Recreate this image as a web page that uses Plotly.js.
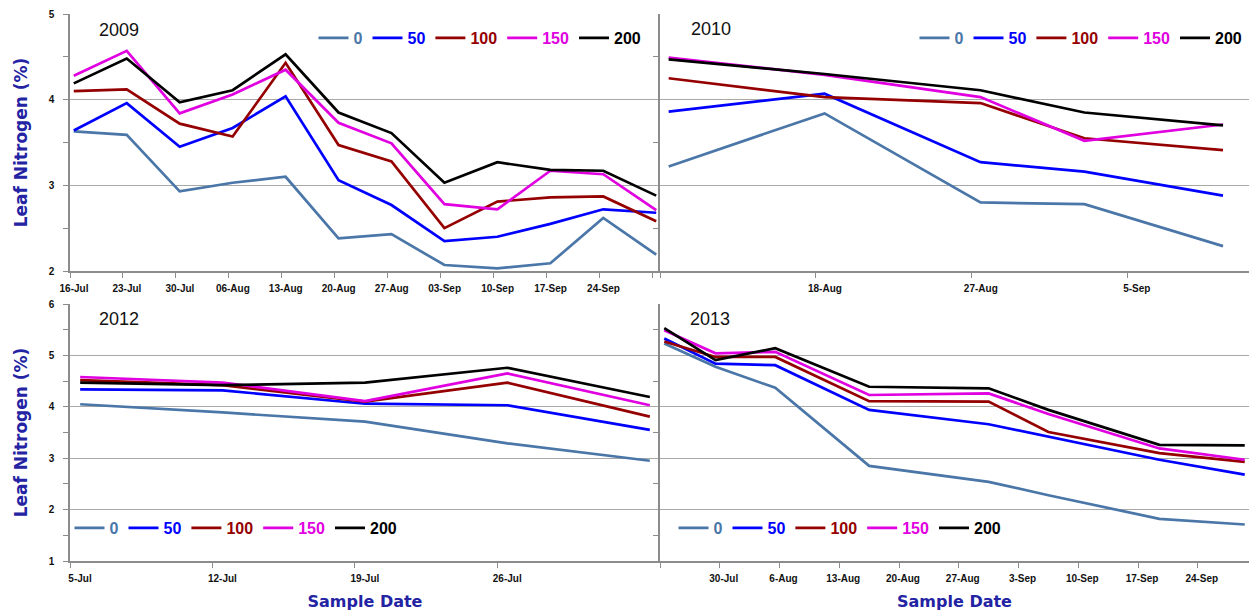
<!DOCTYPE html>
<html>
<head>
<meta charset="utf-8">
<script src="https://cdn.plot.ly/plotly-3.0.1.min.js"></script>
<style>html,body{margin:0;padding:0;background:#fff;}#chart{width:1249px;height:613px;}</style>
</head>
<body>
<div id="chart"></div>
<script>
// ---------- data ----------
const rates = ['0', '50', '100', '150', '200'];
const years = ['2009', '2010', '2012', '2013'];

const dates2009 = ['2009-07-16','2009-07-23','2009-07-30','2009-08-06','2009-08-13','2009-08-20','2009-08-27','2009-09-03','2009-09-10','2009-09-17','2009-09-24','2009-10-01'];
const n0_2009   = [3.63,3.59,2.93,3.03,3.10,2.38,2.43,2.07,2.03,2.09,2.62,2.19];
const n50_2009  = [3.64,3.96,3.45,3.67,4.04,3.06,2.77,2.35,2.40,2.55,2.72,2.68];
const n100_2009 = [4.10,4.12,3.72,3.57,4.43,3.47,3.28,2.50,2.81,2.86,2.87,2.58];
const n150_2009 = [4.28,4.57,3.84,4.06,4.35,3.73,3.49,2.78,2.72,3.17,3.13,2.71];
const n200_2009 = [4.19,4.48,3.97,4.11,4.53,3.85,3.61,3.03,3.27,3.18,3.17,2.88];

const dates2010 = ['2010-08-09','2010-08-18','2010-08-27','2010-09-02','2010-09-10'];
const n0_2010   = [3.22,3.84,2.80,2.78,2.29];
const n50_2010  = [3.86,4.07,3.27,3.16,2.88];
const n100_2010 = [4.25,4.03,3.96,3.55,3.41];
const n150_2010 = [4.49,4.29,4.03,3.52,3.71];
const n200_2010 = [4.47,4.30,4.11,3.85,3.70];

const dates2012 = ['2012-07-05','2012-07-12','2012-07-19','2012-07-26','2012-08-02'];
const n0_2012   = [4.05,3.89,3.71,3.29,2.95];
const n50_2012  = [4.34,4.32,4.06,4.03,3.55];
const n100_2012 = [4.52,4.42,4.10,4.47,3.81];
const n150_2012 = [4.58,4.47,4.11,4.65,4.03];
const n200_2012 = [4.47,4.42,4.47,4.76,4.19];

const dates2013 = ['2013-07-23','2013-07-29','2013-08-05','2013-08-16','2013-08-30','2013-09-06','2013-09-19','2013-09-29'];
const n0_2013   = [5.23,4.78,4.37,2.85,2.54,2.28,1.82,1.71];
const n50_2013  = [5.33,4.84,4.81,3.94,3.66,3.42,2.97,2.68];
const n100_2013 = [5.27,4.97,4.97,4.11,4.10,3.51,3.10,2.93];
const n150_2013 = [5.49,5.04,5.07,4.23,4.26,3.86,3.19,2.97];
const n200_2013 = [5.53,4.91,5.14,4.39,4.36,3.94,3.26,3.25];

// tick positions and labels
const ticks2009  = ['2009-07-16','2009-07-23','2009-07-30','2009-08-06','2009-08-13','2009-08-20','2009-08-27','2009-09-03','2009-09-10','2009-09-17','2009-09-24','2009-10-01'];
const labels2009 = ['16-Jul','23-Jul','30-Jul','06-Aug','13-Aug','20-Aug','27-Aug','03-Sep','10-Sep','17-Sep','24-Sep',''];
const ticks2010  = ['2010-08-09','2010-08-18','2010-08-27','2010-09-05'];
const labels2010 = ['','18-Aug','27-Aug','5-Sep'];
const ticks2012  = ['2012-07-05','2012-07-12','2012-07-19','2012-07-26'];
const labels2012 = ['5-Jul','12-Jul','19-Jul','26-Jul'];
const ticks2013  = ['2013-07-23','2013-07-30','2013-08-06','2013-08-13','2013-08-20','2013-08-27','2013-09-03','2013-09-10','2013-09-17','2013-09-24'];
const labels2013 = ['','30-Jul','6-Aug','13-Aug','20-Aug','27-Aug','3-Sep','10-Sep','17-Sep','24-Sep'];

const yTitle = 'Leaf Nitrogen (%)';
const xTitle = 'Sample Date';

// ---------- styling ----------
const colors = ['#4a76a8', '#0000ff', '#950000', '#e000e0', '#000000'];
const W = 1249, H = 613;
const px = v => v / W;
const py = v => (H - v) / H;

const panels = [
  {dates: dates2009, series: [n0_2009, n50_2009, n100_2009, n150_2009, n200_2009], xa: 'x',  ya: 'y',  leg: 'legend'},
  {dates: dates2010, series: [n0_2010, n50_2010, n100_2010, n150_2010, n200_2010], xa: 'x2', ya: 'y2', leg: 'legend2'},
  {dates: dates2012, series: [n0_2012, n50_2012, n100_2012, n150_2012, n200_2012], xa: 'x3', ya: 'y3', leg: 'legend3'},
  {dates: dates2013, series: [n0_2013, n50_2013, n100_2013, n150_2013, n200_2013], xa: 'x4', ya: 'y4', leg: 'legend4'}
];

const traces = [];
panels.forEach(p => {
  p.series.forEach((vals, i) => {
    traces.push({
      type: 'scatter', mode: 'lines',
      x: p.dates.map(d => d + ' 12:00'),
      y: vals,
      xaxis: p.xa, yaxis: p.ya,
      legend: p.leg,
      name: '<span style="color:' + colors[i] + '">' + rates[i] + '</span>',
      line: {color: colors[i], width: 2.7},
      hoverinfo: 'x+y+name'
    });
  });
});

const axisLine = '#8c8c8c';
const tickFont = {family: 'Liberation Sans, Arial, sans-serif', size: 10, weight: 'bold', color: '#111'};
const yTitleFont = {family: 'DejaVu Sans, sans-serif', size: 17, weight: 'bold', color: '#2323a3'};
const xTitleFont = {family: 'DejaVu Sans, sans-serif', size: 16, weight: 'bold', color: '#2323a3'};

const xLeft = [px(70), px(660)];
const xRight = [px(660), 1];
const yTop = [py(271), py(14)];
const yBot = [py(561), py(304)];

function xAxis(domain, anchor, range, tv, tt, shift, title) {
  const a = {
    domain: domain, anchor: anchor, type: 'date', range: range,
    tickmode: 'array', tickvals: tv, ticktext: tt,
    ticks: 'outside', ticklen: 5, tickwidth: 1.2, tickcolor: axisLine,
    showline: true, linecolor: axisLine, linewidth: 1.5,
    showgrid: false, zeroline: false,
    tickfont: tickFont, ticklabelshift: shift, ticklabelstandoff: 2,
    fixedrange: true
  };
  if (title) a.title = {text: title, font: xTitleFont, standoff: 13};
  return a;
}
function yAxis(domain, anchor, range, labels, title) {
  return {
    domain: domain, anchor: anchor, range: range,
    dtick: 1, tick0: 0,
    ticks: labels ? 'outside' : '', ticklen: 5, tickwidth: 1.2, tickcolor: axisLine,
    showticklabels: labels, tickfont: tickFont, ticklabelstandoff: 7,
    minor: {dtick: 0.5, tick0: 0, ticks: 'outside', ticklen: 5, tickwidth: 1.2, tickcolor: axisLine, showgrid: false},
    showline: true, linecolor: axisLine, linewidth: 1.5,
    showgrid: true, gridcolor: '#a8a8a8', gridwidth: 1.2,
    zeroline: false, fixedrange: true,
    title: title ? {text: title, font: yTitleFont, standoff: 17} : undefined
  };
}
function legendAt(cx, cy) {
  return {
    orientation: 'h', x: px(cx), xanchor: 'center', y: py(cy), yanchor: 'middle',
    bgcolor: 'rgba(0,0,0,0)', borderwidth: 0,
    font: {family: 'Liberation Sans, Arial, sans-serif', size: 16, weight: 'bold'},
    itemwidth: 30, itemclick: false, itemdoubleclick: false
  };
}
function yearLabel(text, x, y) {
  return {
    text: text, xref: 'paper', yref: 'paper', x: px(x), y: py(y),
    xanchor: 'left', yanchor: 'middle', showarrow: false,
    font: {family: 'Liberation Sans, Arial, sans-serif', size: 18, color: '#111'}
  };
}

const layout = {
  width: W, height: H,
  margin: {l: 0, r: 0, t: 0, b: 0},
  paper_bgcolor: '#fff', plot_bgcolor: '#fff',
  showlegend: true,
  xaxis:  xAxis(xLeft,  'y',  ['2009-07-16', '2009-10-02'], ticks2009, labels2009, 4),
  yaxis:  yAxis(yTop, 'x', [2, 5], true, yTitle),
  xaxis2: xAxis(xRight, 'y2', ['2010-08-09', '2010-09-12'], ticks2010, labels2010, 9),
  yaxis2: yAxis(yTop, 'x2', [2, 5], false, null),
  xaxis3: xAxis(xLeft,  'y3', ['2012-07-05', '2012-08-03'], ticks2012, labels2012, 10, xTitle),
  yaxis3: yAxis(yBot, 'x3', [1, 6], true, yTitle),
  xaxis4: xAxis(xRight, 'y4', ['2013-07-23', '2013-09-30'], ticks2013, labels2013, 4, xTitle),
  yaxis4: yAxis(yBot, 'x4', [1, 6], false, null),
  legend:  legendAt(480, 38),
  legend2: legendAt(1081, 38),
  legend3: legendAt(236, 528),
  legend4: legendAt(840, 528),
  annotations: [
    yearLabel(years[0], 97, 30),
    yearLabel(years[1], 689, 29),
    yearLabel(years[2], 97, 319),
    yearLabel(years[3], 688, 319)
  ]
};

Plotly.newPlot('chart', traces, layout, {displayModeBar: false, staticPlot: false, responsive: false});
</script>
</body>
</html>
